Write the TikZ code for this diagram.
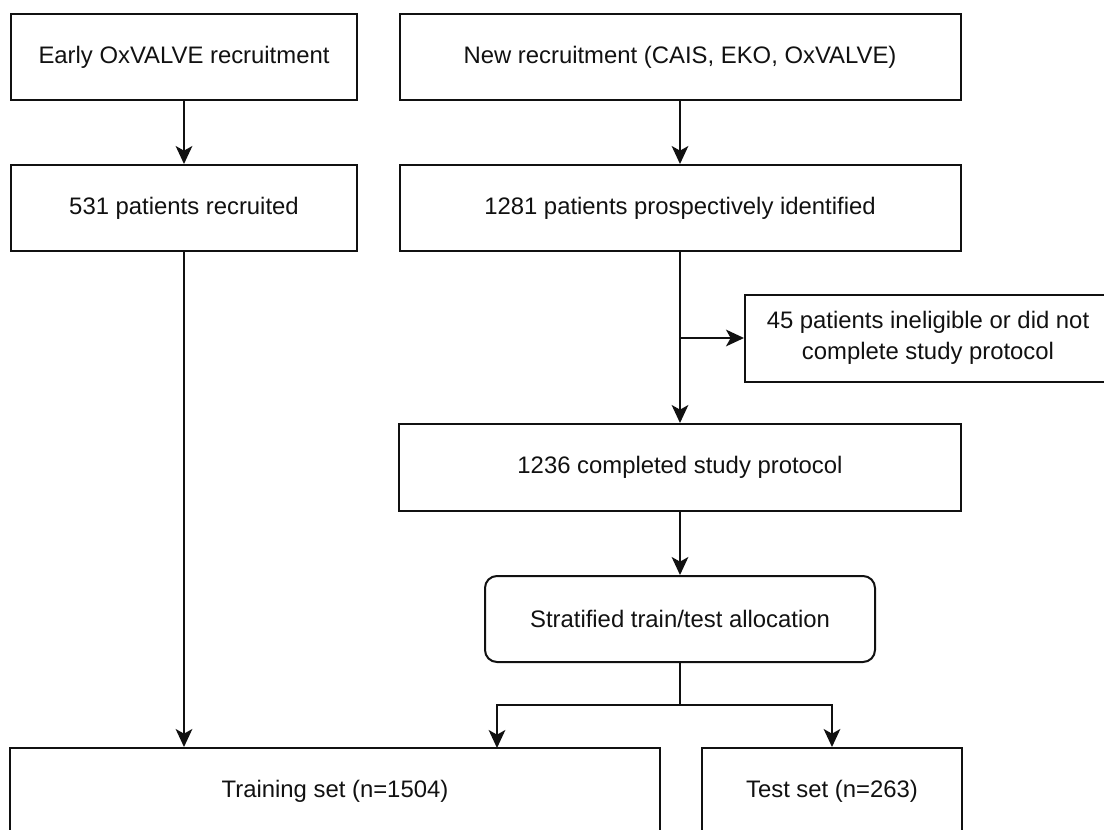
\documentclass[tikz,border=0pt]{standalone}
\usepackage{fontspec}
\setmainfont{Liberation Sans}
\usetikzlibrary{positioning, arrows.meta}
\definecolor{ink}{HTML}{111111}
\newcommand{\px}{0.75pt}
\newcommand{\BoxF}{\fontsize{17.9}{23.3}\selectfont}
\tikzset{
  flowbox/.style={draw=ink, line width=1.5pt, inner sep=0pt, font=\BoxF,
    text=ink, align=center, minimum height=86*\px},
  flowarrow/.style={draw=ink, line width=1.5pt,
    -{Stealth[length=13.5pt, width=12.5pt, inset=3.5pt]}}
}

\begin{document}
\begin{tikzpicture}[x=\px,y=-\px]
\useasboundingbox (0,0) rectangle (1104,829);
\clip (0,0) rectangle (1104,829);
\node[flowbox, minimum width=346*\px] (early) at (184,57) {Early OxVALVE recruitment};
\node[flowbox, minimum width=346*\px] (recr531) at (184,208) {531 patients recruited};
\node[flowbox, minimum width=561*\px] (newrec) at (680,57) {New recruitment (CAIS, EKO, OxVALVE)};
\node[flowbox, minimum width=561*\px] (ident) at (680,208) {1281 patients prospectively identified};
\node[flowbox, minimum width=366*\px, minimum height=87*\px] (excl) at (928,338)
  {45 patients ineligible or did not\\complete study protocol};
\node[flowbox, minimum width=562*\px, minimum height=87*\px] (compl) at (680,467.5) {1236 completed study protocol};
\node[flowbox, minimum width=390*\px, rounded corners=9pt] (strat) at (680,619) {Stratified train/test allocation};
\node[flowbox, minimum width=650*\px] (train) at (335,791) {Training set (n=1504)};
\node[flowbox, minimum width=260*\px] (test) at (832,791) {Test set (n=263)};
\coordinate (branch) at (ident.south |- excl.west);
\coordinate (split) at (680,705);
\coordinate (trainin) at (497,748);
\draw[flowarrow] (early) -- (recr531);
\draw[flowarrow] (recr531) -- (train.north -| recr531);
\draw[flowarrow] (newrec) -- (ident);
\draw[flowarrow] (ident) -- (compl);
\draw[flowarrow] (branch) -- (excl.west);
\draw[flowarrow] (compl) -- (strat);
\draw[flowarrow] (strat.south) -- (split) -| (trainin);
\draw[flowarrow] (split) -| (test.north);
\end{tikzpicture}
\end{document}
